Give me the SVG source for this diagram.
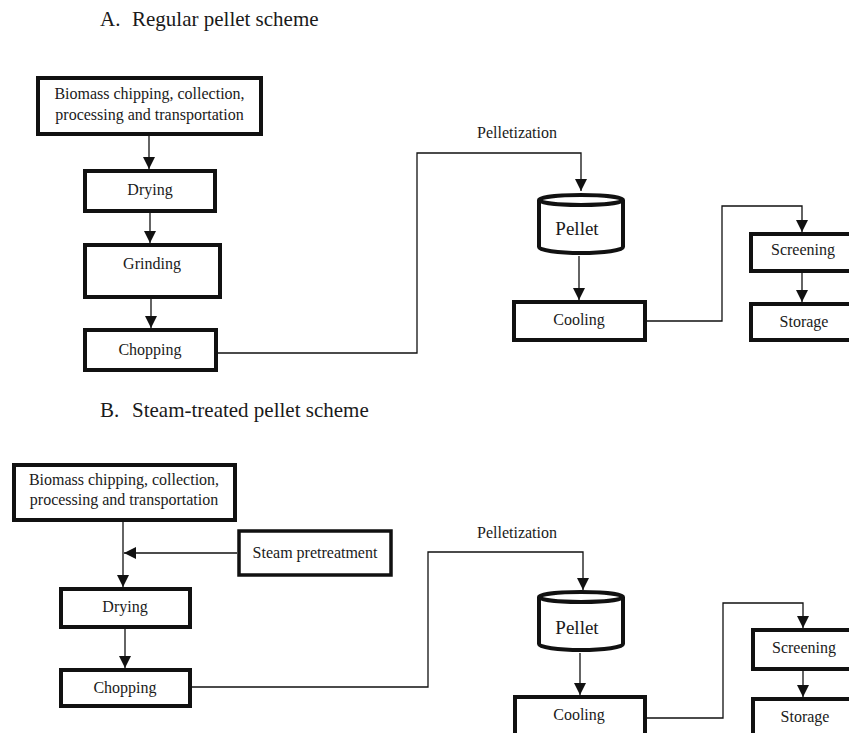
<svg xmlns="http://www.w3.org/2000/svg" width="849" height="733" viewBox="0 0 849 733">
<defs>
<style>
text{font-family:"Liberation Serif","Times New Roman",serif;fill:#1a1a1a;}
.t{font-size:16px;text-anchor:middle;}
.title{font-size:21px;}
.pt{font-size:19px;text-anchor:middle;}
.box{fill:#fff;stroke:#111;stroke-width:4;}
.thin{fill:#fff;stroke:#111;stroke-width:3.5;}
.cyl{fill:#fff;stroke:#111;stroke-width:4;}
.c{fill:none;stroke:#111;stroke-width:1.3;}
</style>
<marker id="ah" markerUnits="userSpaceOnUse" markerWidth="12" markerHeight="12" viewBox="0 0 10 10" refX="10" refY="5" orient="auto">
<path d="M0,0 L10,5 L0,10 Z" fill="#111"/>
</marker>
</defs>
<rect width="849" height="733" fill="#fff"/>

<text class="title" x="100" y="26">A.<tspan x="132">Regular pellet scheme</tspan></text>
<text class="title" x="100" y="417">B.<tspan x="132">Steam-treated pellet scheme</tspan></text>

<g id="connectors">
<!-- A -->
<line class="c" x1="149" y1="136" x2="149" y2="169" marker-end="url(#ah)"/>
<line class="c" x1="150" y1="213" x2="150" y2="243" marker-end="url(#ah)"/>
<line class="c" x1="151" y1="299" x2="151" y2="328" marker-end="url(#ah)"/>
<polyline class="c" points="218,353 417,353 417,153 581,153 581,191" marker-end="url(#ah)"/>
<line class="c" x1="579" y1="256" x2="579" y2="300" marker-end="url(#ah)"/>
<polyline class="c" points="647,321 722,321 722,206 802,206 802,232" marker-end="url(#ah)"/>
<line class="c" x1="802" y1="273" x2="802" y2="302" marker-end="url(#ah)"/>
<!-- B -->
<line class="c" x1="123" y1="522" x2="123" y2="587" marker-end="url(#ah)"/>
<line class="c" x1="237" y1="553" x2="124" y2="553" marker-end="url(#ah)"/>
<line class="c" x1="125" y1="629" x2="125" y2="668" marker-end="url(#ah)"/>
<polyline class="c" points="192,687 428,687 428,552 583,552 583,590" marker-end="url(#ah)"/>
<line class="c" x1="580" y1="653" x2="580" y2="695" marker-end="url(#ah)"/>
<polyline class="c" points="647,718 723,718 723,603 803,603 803,628" marker-end="url(#ah)"/>
<line class="c" x1="803" y1="671" x2="803" y2="697" marker-end="url(#ah)"/>
</g>
<text class="t" x="517" y="138">Pelletization</text>
<text class="t" x="517" y="538">Pelletization</text>

<g id="a-biomass">
<rect class="box" x="38" y="78" width="223" height="56"/>
<text class="t" x="149.5" y="99">Biomass chipping, collection,</text>
<text class="t" x="149.5" y="120">processing and transportation</text>
</g>
<g id="a-drying">
<rect class="box" x="85" y="171" width="130" height="40"/>
<text class="t" x="150" y="195">Drying</text>
</g>
<g id="a-grinding">
<rect class="box" x="85" y="245" width="135" height="52"/>
<text class="t" x="152" y="269">Grinding</text>
</g>
<g id="a-chopping">
<rect class="box" x="85" y="330" width="131" height="40"/>
<text class="t" x="150" y="355">Chopping</text>
</g>
<g id="a-pellet">
<path class="cyl" d="M539,200 L539,247 A42,6 0 0 0 623,247 L623,200"/>
<ellipse class="cyl" cx="581" cy="200" rx="42" ry="5"/>
<text class="pt" x="577" y="235">Pellet</text>
</g>
<g id="a-cooling">
<rect class="box" x="514" y="302" width="131" height="38"/>
<text class="t" x="579" y="325">Cooling</text>
</g>
<g id="a-screening">
<rect class="box" x="751" y="234" width="150" height="37"/>
<text class="t" x="803" y="255">Screening</text>
</g>
<g id="a-storage">
<rect class="box" x="751" y="304" width="150" height="36"/>
<text class="t" x="804" y="327">Storage</text>
</g>

<g id="b-biomass">
<rect class="box" x="14" y="465" width="221" height="55"/>
<text class="t" x="124" y="485">Biomass chipping, collection,</text>
<text class="t" x="124" y="505">processing and transportation</text>
</g>
<g id="b-steam">
<rect class="thin" x="239" y="531" width="152" height="44"/>
<text class="t" x="315" y="558">Steam pretreatment</text>
</g>
<g id="b-drying">
<rect class="box" x="61" y="589" width="129" height="38"/>
<text class="t" x="125" y="612">Drying</text>
</g>
<g id="b-chopping">
<rect class="box" x="61" y="670" width="129" height="36"/>
<text class="t" x="125" y="693">Chopping</text>
</g>
<g id="b-pellet">
<path class="cyl" d="M539,597 L539,644 A42,6 0 0 0 623,644 L623,597"/>
<ellipse class="cyl" cx="581" cy="597" rx="42" ry="5"/>
<text class="pt" x="577" y="634">Pellet</text>
</g>
<g id="b-cooling">
<rect class="box" x="515" y="697" width="130" height="60"/>
<text class="t" x="579" y="720">Cooling</text>
</g>
<g id="b-screening">
<rect class="box" x="753" y="630" width="150" height="39"/>
<text class="t" x="804" y="653">Screening</text>
</g>
<g id="b-storage">
<rect class="box" x="753" y="699" width="150" height="60"/>
<text class="t" x="805" y="722">Storage</text>
</g>
</svg>
